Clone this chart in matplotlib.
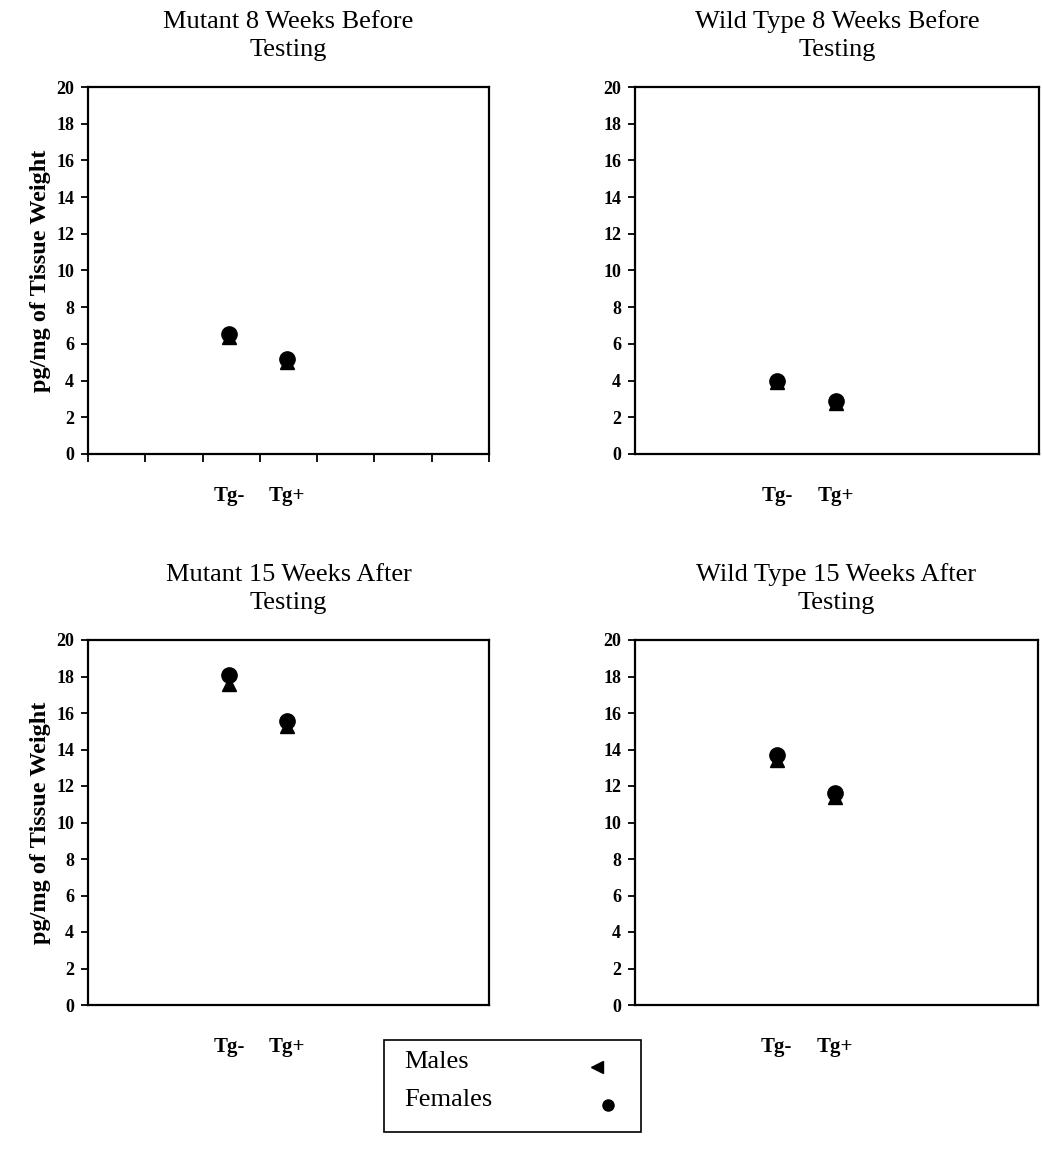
import matplotlib
matplotlib.use("Agg")
import matplotlib.pyplot as plt
from matplotlib.lines import Line2D
from matplotlib.patches import Rectangle

plt.rcParams['font.family'] = ['Liberation Serif', 'DejaVu Serif']

# данные
titles = ["Mutant 8 Weeks Before\nTesting", "Wild Type 8 Weeks Before\nTesting",
          "Mutant 15 Weeks After\nTesting", "Wild Type 15 Weeks After\nTesting"]
groups = ["Tg-", "Tg+"]
group_pos = [2.46, 3.48]
males = [[6.4, 5.0], [3.9, 2.8], [17.6, 15.3], [13.4, 11.4]]
females = [[6.55, 5.2], [4.0, 2.9], [18.1, 15.55], [13.7, 11.6]]
y_ticks = list(range(0, 21, 2))
legend_labels = ["Males", "Females"]
legend_markers = ['<', 'o']

W, H = 1042, 1157
fig = plt.figure(figsize=(W / 100, H / 100), dpi=100)

# позиции панелей в пикселях: left, right, top, bottom
boxes = [(88, 489, 87, 454), (635, 1039, 87, 454),
         (88, 489, 640, 1005), (635, 1038, 640, 1005)]

for i, (l, r, t, b) in enumerate(boxes):
    ax = fig.add_axes([l / W, 1 - b / H, (r - l) / W, (b - t) / H])
    ax.plot(group_pos, males[i], '^', color='black', markersize=10, linestyle='none')
    ax.plot(group_pos, females[i], 'o', color='black', markersize=11, linestyle='none')
    ax.set_xlim(0, 7)
    ax.set_ylim(0, 20)
    ax.set_yticks(y_ticks)
    ax.set_yticklabels([str(v) for v in y_ticks], fontweight='bold', fontsize=13)
    ax.tick_params(axis='y', direction='out', length=5, width=1.3, pad=5)
    if i == 0:
        ax.set_xticks(range(8))
        ax.set_xticklabels([])
        ax.tick_params(axis='x', which='major', direction='out', length=6, width=1.3)
    else:
        ax.set_xticks([])
    ax.set_xticks(group_pos, groups, minor=True)
    ax.tick_params(axis='x', which='minor', length=0, pad=23, labelsize=15)
    for lab in ax.get_xticklabels(minor=True):
        lab.set_fontweight('bold')
    for s in ax.spines.values():
        s.set_linewidth(1.6)
    ax.set_title(titles[i], fontsize=19, pad=22, linespacing=1.4)
    if i in (0, 2):
        ax.set_ylabel("pg/mg of Tissue Weight", fontweight='bold', fontsize=17.5, labelpad=4)

# легенда вручную: текст выровнен по левому краю, маркеры справа
fig.add_artist(Rectangle((384 / W, 1 - 1132 / H), (641 - 384) / W, (1132 - 1040) / H,
                         transform=fig.transFigure, fill=False, edgecolor='black',
                         linewidth=1.2))
for k, (lab, mk) in enumerate(zip(legend_labels, legend_markers)):
    yy = 1 - (1062 + 38 * k) / H
    fig.text(404 / W, yy, lab, fontsize=19, ha='left', va='center')
    mx = (597 if mk == '<' else 608) / W
    fig.add_artist(Line2D([mx], [yy - 0.004], marker=mk, color='black', linestyle='none',
                          markersize=8, transform=fig.transFigure))

fig.savefig("out.png", dpi=100)
